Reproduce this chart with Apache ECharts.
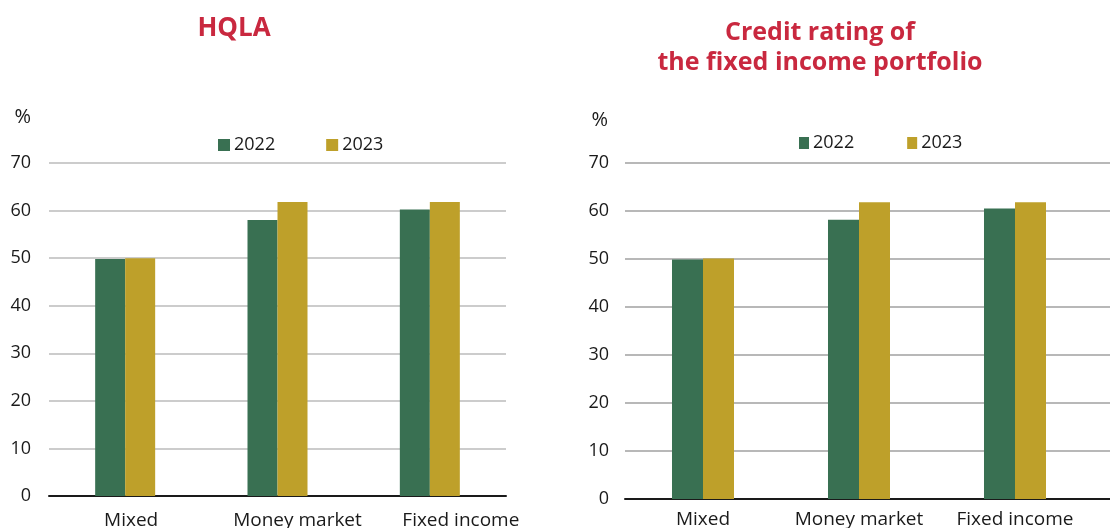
<!DOCTYPE html>
<html>
<head>
<meta charset="utf-8">
<script src="https://cdn.jsdelivr.net/npm/echarts@6/dist/echarts.min.js"></script>
<style>
  html, body { margin: 0; padding: 0; background: #ffffff; }
  #chart { width: 1110px; height: 528px; }
</style>
</head>
<body>
<div id="chart"></div>
<script>
// Fund categories and years
const categories = ['Mixed', 'Money market', 'Fixed income'];
const years = ['2022', '2023'];

// HQLA share, %
const hqla2022 = [49.8, 58.0, 60.2];
const hqla2023 = [50.0, 61.8, 61.8];

// Credit rating of the fixed income portfolio, %
const rating2022 = [49.9, 58.2, 60.5];
const rating2023 = [50.1, 61.8, 61.8];

// Value axis ticks
const yTicks = [0, 10, 20, 30, 40, 50, 60, 70];

const GREEN = '#397052';
const GOLD = '#bea02a';
const RED = '#c9283f';
const INK = '#1a1a1a';
const FONT = '"Open Sans", "Noto Sans", sans-serif';

// horizontal nudges for the left panel's category labels (px)
const leftLabelShift = [6, 20, 31];

const chart = echarts.init(document.getElementById('chart'), null, { renderer: 'canvas' });

const yAxisBase = {
  type: 'value',
  min: yTicks[0],
  max: yTicks[yTicks.length - 1],
  interval: 10,
  name: '%',
  nameLocation: 'end',
  axisLine: { show: false, onZero: false },
  axisTick: { show: false },
  axisLabel: { color: INK, fontSize: 18, fontFamily: FONT }
};

const legendBase = {
  padding: 0,
  itemWidth: 12, itemHeight: 12,
  icon: 'rect',
  textStyle: { fontSize: 18, color: INK, fontFamily: FONT, padding: [0, 0, 0, -1] }
};

const option = {
  animation: false,
  backgroundColor: '#ffffff',
  textStyle: { fontFamily: FONT },
  title: [
    {
      text: 'HQLA',
      left: 234, top: 16, padding: 0, textAlign: 'center',
      textStyle: { color: RED, fontSize: 26, fontWeight: 'bold', fontFamily: FONT }
    },
    {
      text: 'Credit rating of\nthe fixed income portfolio',
      left: 820, top: 18, padding: 0, textAlign: 'center',
      textStyle: { color: RED, fontSize: 25, fontWeight: 'bold', lineHeight: 30, fontFamily: FONT }
    }
  ],
  legend: [
    Object.assign({}, legendBase, { data: years, left: 218, top: 136, itemGap: 51 }),
    Object.assign({}, legendBase, {
      data: years.map(y => y + ' '), left: 799, top: 134, itemWidth: 10, itemGap: 53,
      formatter: n => n.trim()
    })
  ],
  // category labels run off the bottom edge, so the plot areas are fixed
  grid: [
    { left: 49, right: 604, top: 163, bottom: 32, outerBoundsMode: 'none' },
    { left: 625, right: 0, top: 163, bottom: 29, outerBoundsMode: 'none' }
  ],
  xAxis: [
    {
      type: 'category', gridIndex: 0,
      data: categories.map((c, i) => ({
        value: c,
        textStyle: { padding: [0, 0, 0, 2 * leftLabelShift[i]] }
      })),
      axisLine: { lineStyle: { color: INK, width: 2 } },
      axisTick: { show: false },
      axisLabel: { color: INK, fontSize: 19, margin: 15, interval: 0, hideOverlap: false, fontFamily: FONT }
    },
    {
      // continuous axis so the panel's frame runs past the last category
      type: 'value', gridIndex: 1,
      min: -0.5, max: 2.609, interval: 0.5,
      splitLine: { show: false },
      axisLine: { onZero: false, lineStyle: { color: INK, width: 2 } },
      axisTick: { show: false },
      axisLabel: {
        color: INK, fontSize: 19, margin: 11, fontFamily: FONT,
        showMaxLabel: false, hideOverlap: false,
        formatter: v => (Number.isInteger(v) && categories[v] !== undefined) ? categories[v] : ''
      }
    }
  ],
  yAxis: [
    Object.assign({}, yAxisBase, {
      gridIndex: 0, nameGap: 46,
      nameTextStyle: { color: INK, fontSize: 20, fontFamily: FONT, align: 'right', verticalAlign: 'middle', padding: [0, 18, 0, 0] },
      axisLabel: Object.assign({}, yAxisBase.axisLabel, { margin: 18 }),
      splitLine: { lineStyle: { color: '#cccccc', width: 2 } }
    }),
    Object.assign({}, yAxisBase, {
      gridIndex: 1, nameGap: 43,
      nameTextStyle: { color: INK, fontSize: 20, fontFamily: FONT, align: 'right', verticalAlign: 'middle', padding: [0, 17, 0, 0] },
      axisLabel: Object.assign({}, yAxisBase.axisLabel, { margin: 16 }),
      splitLine: { lineStyle: { color: '#b8b8b8', width: 2 } }
    })
  ],
  series: [
    {
      name: years[0], type: 'bar', xAxisIndex: 0, yAxisIndex: 0,
      data: hqla2022, barWidth: 30, barGap: '0%', itemStyle: { color: GREEN }
    },
    {
      name: years[1], type: 'bar', xAxisIndex: 0, yAxisIndex: 0,
      data: hqla2023, barWidth: 30, barGap: '0%', itemStyle: { color: GOLD }
    },
    {
      name: years[0] + ' ', type: 'bar', xAxisIndex: 1, yAxisIndex: 1,
      data: rating2022.map((v, i) => [i, v]), barWidth: 31, barGap: '0%', itemStyle: { color: GREEN }
    },
    {
      name: years[1] + ' ', type: 'bar', xAxisIndex: 1, yAxisIndex: 1,
      data: rating2023.map((v, i) => [i, v]), barWidth: 31, barGap: '0%', itemStyle: { color: GOLD }
    }
  ]
};

chart.setOption(option);
</script>
</body>
</html>
